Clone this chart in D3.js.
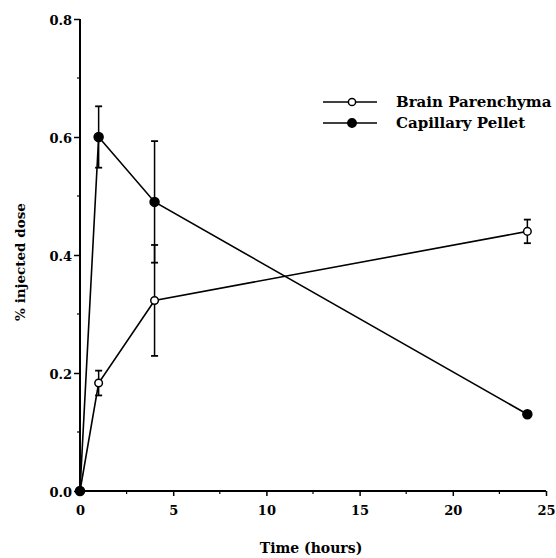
<!DOCTYPE html>
<html>
<head>
<meta charset="utf-8">
<script src="https://cdn.jsdelivr.net/npm/d3@7"></script>
<style>
  body { margin: 0; background: #fff; }
  svg text { font-family: "DejaVu Serif", "Liberation Serif", serif; font-weight: bold; fill: #000; }
</style>
</head>
<body>
<div id="chart"></div>
<script>
// data
var timePoints = [0, 1, 4, 24]
var brainValues = [0, 0.183, 0.323, 0.44]
var brainErrors = [0, 0.021, 0.094, 0.02]
var capillaryValues = [0, 0.60, 0.49, 0.13]
var capillaryErrors = [0, 0.052, 0.103, 0]
var seriesNames = ["Brain Parenchyma", "Capillary Pellet"]
var xTicks = [0, 5, 10, 15, 20, 25]
var xMinorTicks = [2.5, 7.5, 12.5, 17.5, 22.5]
var yTicks = [0.0, 0.2, 0.4, 0.6, 0.8]
var yMinorTicks = [0.1, 0.3, 0.5, 0.7]

var width = 556, height = 558
var margin = { left: 80, right: 10, top: 19, bottom: 67 }

var svg = d3.select("#chart").append("svg")
    .attr("width", width)
    .attr("height", height)

var x = d3.scaleLinear()
    .domain([0, 25])
    .range([margin.left, 546])

var y = d3.scaleLinear()
    .domain([0, 0.8])
    .range([491, margin.top])

// axes
var xAxis = d3.axisBottom(x).tickValues(xTicks).tickSize(5).tickFormat(d3.format("d"))
var yAxis = d3.axisLeft(y).tickValues(yTicks).tickSize(6).tickFormat(d3.format(".1f"))

var gx = svg.append("g")
    .attr("transform", "translate(0," + y(0) + ")")
    .call(xAxis)
gx.select(".domain").attr("d", "M" + x(0) + ",0H" + x(25)).attr("stroke-width", 2)
gx.selectAll(".tick line").attr("stroke-width", 1.5)
gx.selectAll(".tick text")
    .attr("y", 15)
    .attr("font-size", "13px")

gx.selectAll(".minor")
    .data(xMinorTicks)
    .enter()
        .append("line")
        .attr("class", "minor")
        .attr("x1", d => x(d))
        .attr("x2", d => x(d))
        .attr("y1", 0)
        .attr("y2", 3)
        .attr("stroke", "#000")
        .attr("stroke-width", 1.2)

var gy = svg.append("g")
    .attr("transform", "translate(" + x(0) + ",0)")
    .call(yAxis)
gy.select(".domain").attr("d", "M0," + y(0.8) + "V" + y(0)).attr("stroke-width", 2)
gy.selectAll(".tick line").attr("stroke-width", 1.5)
gy.selectAll(".tick text")
    .attr("x", -8)
    .attr("dy", "0.45em")
    .attr("font-size", "13px")

gy.selectAll(".minor")
    .data(yMinorTicks)
    .enter()
        .append("line")
        .attr("class", "minor")
        .attr("x1", 0)
        .attr("x2", -3)
        .attr("y1", d => y(d))
        .attr("y2", d => y(d))
        .attr("stroke", "#000")
        .attr("stroke-width", 1.2)

// axis titles
svg.append("text")
    .attr("x", 311)
    .attr("y", 553)
    .attr("text-anchor", "middle")
    .attr("font-size", "14px")
    .text("Time (hours)")

svg.append("text")
    .attr("transform", "translate(25,262) rotate(-90)")
    .attr("text-anchor", "middle")
    .attr("font-size", "13.5px")
    .text("% injected dose")

// series
var series = [
    { name: seriesNames[0], values: brainValues, errors: brainErrors, fill: "#fff" },
    { name: seriesNames[1], values: capillaryValues, errors: capillaryErrors, fill: "#000" }
]

var line = d3.line()
    .x((d, i) => x(timePoints[i]))
    .y(d => y(d))

series.forEach(function(s){
    svg.append("path")
        .datum(s.values)
        .attr("d", line)
        .attr("fill", "none")
        .attr("stroke", "#000")
        .attr("stroke-width", 1.6)
})

series.forEach(function(s){
    var pts = timePoints.map((t, i) => ({ t: t, v: s.values[i], e: s.errors[i] }))
        .filter(d => d.e > 0)
    var g = svg.append("g")
    g.selectAll(".err")
        .data(pts)
        .enter()
            .append("line")
            .attr("x1", d => x(d.t))
            .attr("x2", d => x(d.t))
            .attr("y1", d => y(d.v - d.e))
            .attr("y2", d => y(d.v + d.e))
            .attr("stroke", "#000")
            .attr("stroke-width", 1.5)
    g.selectAll(".cap-hi")
        .data(pts)
        .enter()
            .append("line")
            .attr("x1", d => x(d.t) - 3.5)
            .attr("x2", d => x(d.t) + 3.5)
            .attr("y1", d => y(d.v + d.e))
            .attr("y2", d => y(d.v + d.e))
            .attr("stroke", "#000")
            .attr("stroke-width", 1.8)
    g.selectAll(".cap-lo")
        .data(pts)
        .enter()
            .append("line")
            .attr("x1", d => x(d.t) - 3.5)
            .attr("x2", d => x(d.t) + 3.5)
            .attr("y1", d => y(d.v - d.e))
            .attr("y2", d => y(d.v - d.e))
            .attr("stroke", "#000")
            .attr("stroke-width", 1.8)
})

series.forEach(function(s){
    svg.append("g").selectAll("circle")
        .data(s.values)
        .enter()
            .append("circle")
            .attr("cx", (d, i) => x(timePoints[i]))
            .attr("cy", d => y(d))
            .attr("r", s.fill == "#000" ? 4.5 : 3.8)
            .attr("fill", s.fill)
            .attr("stroke", "#000")
            .attr("stroke-width", 1.5)
})

// legend
var legend = svg.append("g")
legend.selectAll(".leg-item")
    .data(series)
    .enter()
        .append("g")
        .attr("class", "leg-item")
        .attr("transform", (d, i) => "translate(323," + (102 + i * 21) + ")")
        .each(function(d){
            var item = d3.select(this)
            item.append("line")
                .attr("x1", 0).attr("x2", 54)
                .attr("y1", 0).attr("y2", 0)
                .attr("stroke", "#000")
                .attr("stroke-width", 1.6)
            item.append("circle")
                .attr("cx", 29).attr("cy", 0)
                .attr("r", d.fill == "#000" ? 4.2 : 3.6)
                .attr("fill", d.fill)
                .attr("stroke", "#000")
                .attr("stroke-width", 1.5)
            item.append("text")
                .attr("x", 73)
                .attr("y", 5)
                .attr("font-size", "15px")
                .text(d.name)
        })
</script>
</body>
</html>
